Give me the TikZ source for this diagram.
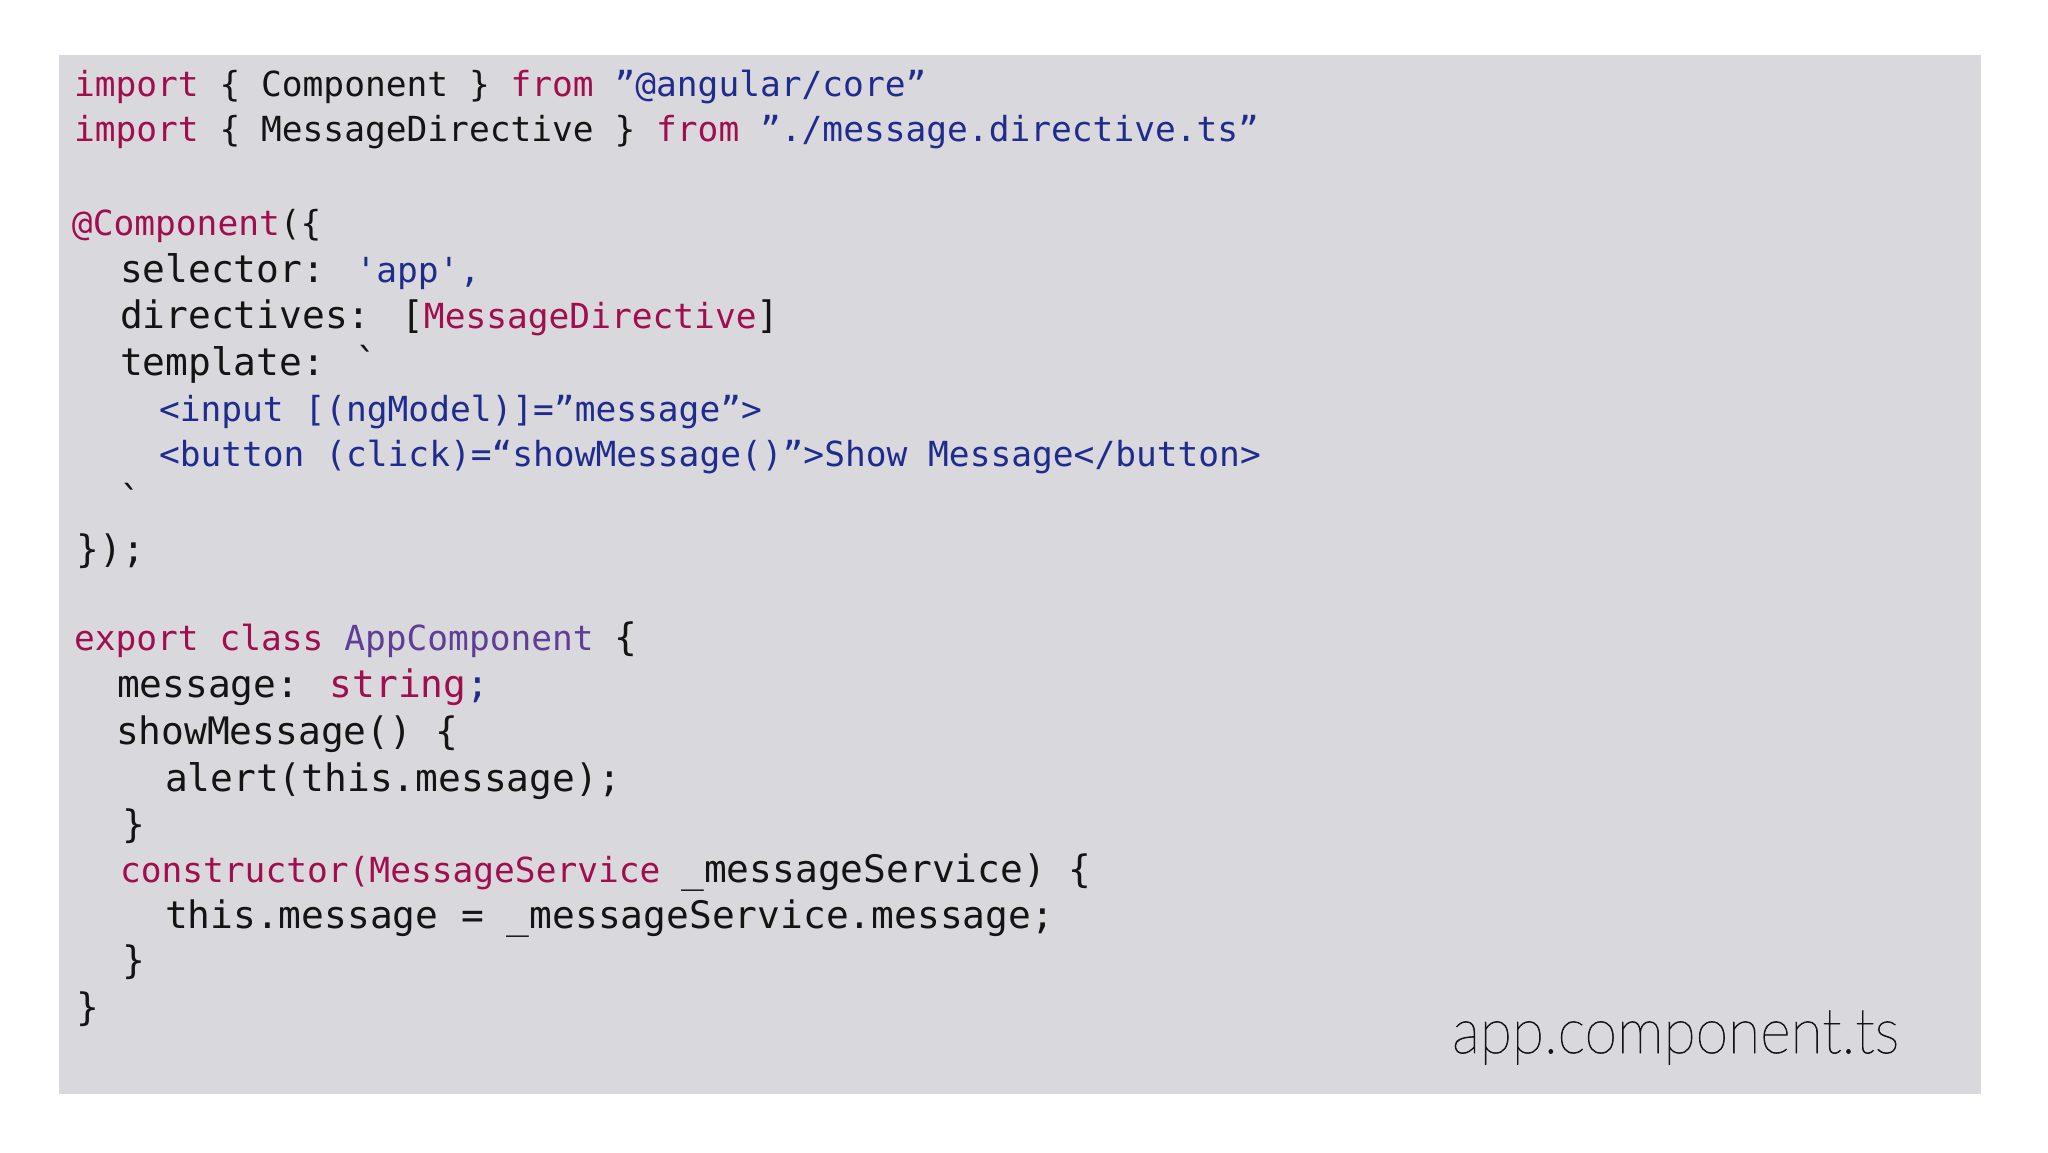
\documentclass[tikz,border=0pt]{standalone}
\usepackage{fontspec}
\usepackage{graphicx}
\newfontfamily\consfont{DejaVu Sans Mono}[Ligatures=ResetAll]
\newfontfamily\monofont{DejaVu Sans Mono}[Ligatures=ResetAll]
\IfFontExistsTF{Lato Thin}{\newfontfamily\thinfont{Lato Thin}[FakeBold=1.2]}{%
  \IfFontExistsTF{Lato Hairline}{\newfontfamily\thinfont{Lato Hairline}[FakeBold=1.2]}{%
    \newfontfamily\thinfont{Lato Light}}}
\definecolor{crim}{HTML}{A00E4E}
\definecolor{navy}{HTML}{1F2C8E}
\definecolor{purp}{HTML}{5F3E96}
\definecolor{ink}{HTML}{141414}
\definecolor{panel}{HTML}{D9D8DC}
\newcommand\cns[1]{{\consfont\fontsize{12.95pt}{12.95pt}\selectfont #1}}
\newcommand\mno[1]{{\monofont\fontsize{14.2pt}{14.2pt}\selectfont #1}}
\tikzset{
  codeline/.style={anchor=base west, inner sep=0pt, outer sep=0pt, text=ink},
  filelabel/.style={anchor=base west, inner sep=0pt, outer sep=0pt, text=ink}
}
\begin{document}
\begin{tikzpicture}[x=0.375pt, y=-0.375pt]
\useasboundingbox (0,0) rectangle (2048,1152);
\fill[white] (0,0) rectangle (2048,1152);
\fill[panel] (59,55) rectangle (1981,1094);
\node[codeline] (l1) at (74,96) {\cns{\textcolor{crim}{import} \{ Component \} \textcolor{crim}{from} \textcolor{navy}{”@angular/core”}}};
\node[codeline] (l2) at (74,141.7) {\cns{\textcolor{crim}{import} \{ MessageDirective \} \textcolor{crim}{from} \textcolor{navy}{”./message.directive.ts”}}};
\node[codeline] (l3) at (72,235) {\cns{\textcolor{crim}{@Component}(\{}};
\node[codeline] (l4) at (120,282.7) {\mno{selector: }\cns{\textcolor{navy}{\textquotesingle app\textquotesingle,}}};
\node[codeline] (l5) at (120,328) {\mno{directives: [}\cns{\textcolor{crim}{MessageDirective}}\mno{]}};
\node[codeline] (l6) at (120,375) {\mno{template: \textasciigrave}};
\node[codeline] (l7) at (159,421) {\cns{\textcolor{navy}{<input [(ngModel)]=”message”>}}};
\node[codeline] (l8) at (159,466) {\cns{\textcolor{navy}{<button (click)=“showMessage()”>Show Message</button>}}};
\node[codeline] (l9) at (119,513) {\mno{\textasciigrave}};
\node[codeline] (l10) at (77,562) {\mno{\});}};
\node[codeline] (l11) at (74,650) {\cns{\textcolor{crim}{export class} \textcolor{purp}{AppComponent} }\mno{\{}};
\node[codeline] (l12) at (117,697) {\mno{message: \textcolor{crim}{string}\textcolor{navy}{;}}};
\node[codeline] (l13) at (116,744) {\mno{showMessage() \{}};
\node[codeline] (l14) at (165,791) {\mno{alert(this.message);}};
\node[codeline] (l15) at (122,837) {\mno{\}}};
\node[codeline] (l16) at (120,882) {\cns{\textcolor{crim}{constructor(MessageService} }\mno{\_messageService) \{}};
\node[codeline] (l17) at (165,928) {\mno{this.message = \_messageService.message;}};
\node[codeline] (l18) at (122,973) {\mno{\}}};
\node[codeline] (l19) at (77,1020) {\mno{\}}};
\node[filelabel] (fname) at (1452,1053) {\resizebox{167.6pt}{\height}{\thinfont\fontsize{23.7pt}{23.7pt}\selectfont app.component.ts}};
\end{tikzpicture}
\end{document}
